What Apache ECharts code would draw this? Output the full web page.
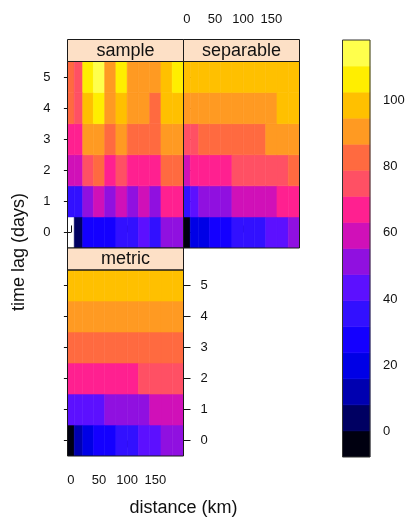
<!DOCTYPE html>
<html>
<head>
<meta charset="utf-8">
<script src="https://cdn.jsdelivr.net/npm/echarts@6/dist/echarts.min.js"></script>
<style>
  html, body { margin: 0; padding: 0; background: #ffffff; }
  #chart { width: 408px; height: 518px; }
</style>
</head>
<body>
<div id="chart"></div>
<script>
// Spatio-temporal variogram: sample values and two fitted models
// distance bin centres (km) and time lags (days)
const distances = [0, 12, 30, 50, 70, 90, 110, 130, 150, 170, 190];
const timeLags = [0, 1, 2, 3, 4, 5];

// one row per time lag (0..5), one column per distance bin
const sampleGamma = [
  [null, 4.3, 27.1, 28.4, 26.9, 34.8, 36.2, 43.9, 35.1, 50.6, 52.0],
  [36.5, 37.8, 50.2, 58.9, 51.7, 60.3, 50.8, 59.7, 49.6, 66.8, 68.4],
  [58.1, 60.4, 74.6, 82.1, 67.9, 75.8, 66.2, 68.0, 67.4, 81.5, 83.3],
  [66.5, 68.9, 90.2, 91.8, 83.4, 89.6, 82.0, 83.7, 84.5, 90.9, 92.3],
  [82.6, 75.3, 98.1, 106.0, 90.4, 99.2, 91.5, 90.1, 84.7, 97.8, 99.6],
  [83.9, 76.2, 105.3, 110.5, 91.2, 106.8, 89.8, 91.9, 90.6, 99.4, 104.7]
];
const separableGamma = [
  [0.0, 19.4, 21.2, 26.0, 28.9, 32.4, 35.0, 37.3, 41.2, 44.6, 48.3],
  [33.0, 42.5, 48.1, 51.6, 54.8, 56.9, 59.0, 60.8, 62.5, 64.1, 65.6],
  [57.5, 64.3, 66.0, 68.4, 70.5, 72.3, 74.0, 75.6, 77.0, 78.4, 79.6],
  [72.6, 76.8, 79.5, 81.2, 82.7, 84.0, 85.2, 86.3, 87.3, 88.2, 89.0],
  [87.2, 89.0, 90.3, 91.2, 92.0, 92.7, 93.3, 93.9, 94.4, 94.9, 95.3],
  [95.0, 96.2, 97.0, 97.6, 98.1, 98.5, 98.9, 99.2, 99.5, 99.8, 100.1]
];
const metricGamma = [
  [0.0, 12.5, 20.3, 25.8, 29.4, 33.1, 36.5, 40.2, 44.0, 48.0, 51.8],
  [41.0, 42.3, 44.1, 46.5, 48.6, 50.9, 53.0, 54.9, 56.7, 58.4, 60.0],
  [64.0, 64.4, 65.1, 66.2, 67.3, 68.4, 69.5, 71.6, 72.6, 73.6, 74.5],
  [80.2, 80.4, 80.8, 81.5, 82.2, 82.9, 83.6, 84.3, 84.9, 85.5, 86.1],
  [90.0, 90.1, 90.4, 90.8, 91.2, 91.6, 92.0, 92.4, 92.8, 93.1, 93.4],
  [97.8, 97.9, 98.1, 98.4, 98.7, 99.0, 99.3, 99.6, 99.9, 100.2, 100.4]
];

const panelNames = ['sample', 'separable', 'metric'];
const distTicks = [0, 50, 100, 150, 200];
const distLabels = [0, 50, 100, 150];
const lagTicks = [0, 1, 2, 3, 4, 5];
const keyTicks = [0, 20, 40, 60, 80, 100];

// black - blue - purple - yellow ramp, 16 levels
const palette = [
  '#000010', '#000062', '#0000b0', '#0000e6', '#1400ff', '#3210ff', '#5c10ff', '#9010e0',
  '#d010b8', '#ff2090', '#ff5064', '#ff6a40', '#ff9a22', '#ffc000', '#ffee00', '#ffff4c'
];

// colour breaks: data range widened by 7% on both sides, split evenly
const allValues = [].concat(...sampleGamma, ...separableGamma, ...metricGamma).filter(v => v != null);
const zMin = Math.min(...allValues), zMax = Math.max(...allValues);
const zPad = 0.07 * (zMax - zMin);
const zLo = zMin - zPad, zHi = zMax + zPad;
const breaks = palette.map((_, i) => zLo + (zHi - zLo) * i / palette.length).concat([zHi]);

// cell edges halfway between neighbouring centres
function cellEdges(c) {
  const n = c.length;
  const e = [c[0] - (c[1] - c[0]) / 2];
  for (let i = 0; i < n - 1; i++) e.push((c[i] + c[i + 1]) / 2);
  e.push(c[n - 1] + (c[n - 1] - c[n - 2]) / 2);
  return e;
}
const xEdges = cellEdges(distances);
const yEdges = cellEdges(timeLags);

function cells(grid) {
  const out = [];
  grid.forEach((row, i) => row.forEach((v, j) => {
    if (v != null) out.push([xEdges[j], xEdges[j + 1], yEdges[i], yEdges[i + 1], v]);
  }));
  return out;
}
const keyCells = palette.map((_, k) => [0, 1, breaks[k], breaks[k + 1], (breaks[k] + breaks[k + 1]) / 2]);

function renderCell(params, api) {
  const a = api.coord([api.value(0), api.value(3)]);
  const b = api.coord([api.value(1), api.value(2)]);
  const c = api.visual('color');
  return {
    type: 'rect',
    shape: { x: a[0], y: a[1], width: b[0] - a[0], height: b[1] - a[1] },
    style: { fill: c, stroke: c, lineWidth: 0.6 }
  };
}

// layout (px)
const FONT = '"Liberation Sans", Arial, Helvetica, sans-serif';
const colLeft = [67.5, 183.5];
const panelW = 116;
const stripH = 22;
const topStripY = 39.5;
const plotH = 186.5;
const row0Top = topStripY + stripH;            // sample / separable plot top
const row1StripY = row0Top + plotH;            // metric strip top
const row1Top = row1StripY + stripH;           // metric plot top
const row1H = 186;
const key = { left: 342.5, top: 40, width: 27.5, height: 417 };

const panelBoxes = [
  { left: colLeft[0], top: row0Top, width: panelW, height: plotH, stripY: topStripY },
  { left: colLeft[1], top: row0Top, width: panelW, height: plotH, stripY: topStripY },
  { left: colLeft[0], top: row1Top, width: panelW, height: row1H, stripY: row1StripY }
];

const tickStyle = { show: true, inside: false, length: 7, lineStyle: { color: '#111', width: 1 } };
const labelStyle = { color: '#111', fontSize: 13, fontFamily: FONT };

function xAxisDef(gridIndex, position, withLabels, offset, margin) {
  return {
    type: 'value', gridIndex, position, offset: offset || 0,
    min: xEdges[0], max: xEdges[xEdges.length - 1],
    axisLine: { show: false }, splitLine: { show: false },
    axisTick: Object.assign({ customValues: distTicks }, tickStyle),
    axisLabel: Object.assign({ show: withLabels, customValues: distLabels, margin: margin || 10 }, labelStyle)
  };
}
function yAxisDef(gridIndex, position, withLabels) {
  return {
    type: 'value', gridIndex, position,
    min: yEdges[0], max: yEdges[yEdges.length - 1],
    axisLine: { show: false }, splitLine: { show: false },
    axisTick: Object.assign({ customValues: lagTicks }, tickStyle),
    axisLabel: Object.assign({ show: withLabels, customValues: lagTicks, margin: 17 }, labelStyle)
  };
}

const graphics = [];
panelBoxes.forEach((p, i) => {
  graphics.push({
    type: 'rect', z: 100,
    shape: { x: p.left, y: p.stripY, width: panelW, height: stripH },
    style: { fill: '#fde0c6', stroke: '#1a1a1a', lineWidth: 1 }
  });
  graphics.push({
    type: 'text', z: 101, x: p.left + panelW / 2, y: p.stripY + stripH / 2 + 0.5,
    style: { text: panelNames[i], fill: '#111', font: '18px ' + FONT, align: 'center', verticalAlign: 'middle' }
  });
  graphics.push({
    type: 'rect', z: 100,
    shape: { x: p.left, y: p.top, width: p.width, height: p.height },
    style: { fill: 'none', stroke: '#1a1a1a', lineWidth: 1 }
  });
});
graphics.push({
  type: 'rect', z: 100,
  shape: { x: key.left, y: key.top, width: key.width, height: key.height },
  style: { fill: 'none', stroke: '#333', lineWidth: 1 }
});
graphics.push({
  type: 'text', z: 101, x: colLeft[0] + panelW, y: 508,
  style: { text: 'distance (km)', fill: '#111', font: '18px ' + FONT, align: 'center', verticalAlign: 'middle' }
});
graphics.push({
  type: 'text', z: 101, x: 19, y: 252, rotation: Math.PI / 2,
  style: { text: 'time lag (days)', fill: '#111', font: '18px ' + FONT, align: 'center', verticalAlign: 'middle' }
});

const chart = echarts.init(document.getElementById('chart'), null, { renderer: 'canvas' });
chart.setOption({
  animation: false,
  backgroundColor: '#ffffff',
  grid: panelBoxes.map(p => ({ left: p.left, top: p.top, width: p.width, height: p.height }))
    .concat([{ left: key.left, top: key.top, width: key.width, height: key.height }]),
  xAxis: [
    xAxisDef(0, 'top', false, stripH, 14),
    xAxisDef(1, 'top', true, stripH, 14),
    xAxisDef(2, 'bottom', true, 0, 18),
    { type: 'value', gridIndex: 3, min: 0, max: 1, show: false }
  ],
  yAxis: [
    yAxisDef(0, 'left', true),
    yAxisDef(1, 'right', false),
    yAxisDef(2, 'left', false),
    yAxisDef(2, 'right', true),
    {
      type: 'value', gridIndex: 3, position: 'right', min: zLo, max: zHi,
      axisLine: { show: false }, splitLine: { show: false },
      axisTick: Object.assign({ customValues: keyTicks }, tickStyle, { length: 6 }),
      axisLabel: Object.assign({ customValues: keyTicks, margin: 13 }, labelStyle)
    }
  ],
  visualMap: {
    type: 'piecewise', show: false, dimension: 4, seriesIndex: [0, 1, 2, 3],
    pieces: palette.map((c, k) => (k === palette.length - 1
      ? { gte: breaks[k], lte: breaks[k + 1], color: c }
      : { gte: breaks[k], lt: breaks[k + 1], color: c }))
  },
  graphic: graphics,
  series: [
    { type: 'custom', name: 'sample', xAxisIndex: 0, yAxisIndex: 0, renderItem: renderCell, data: cells(sampleGamma), encode: { x: [0, 1], y: [2, 3] }, clip: true },
    { type: 'custom', name: 'separable', xAxisIndex: 1, yAxisIndex: 1, renderItem: renderCell, data: cells(separableGamma), encode: { x: [0, 1], y: [2, 3] }, clip: true },
    { type: 'custom', name: 'metric', xAxisIndex: 2, yAxisIndex: 2, renderItem: renderCell, data: cells(metricGamma), encode: { x: [0, 1], y: [2, 3] }, clip: true },
    { type: 'custom', name: 'key', xAxisIndex: 3, yAxisIndex: 4, renderItem: renderCell, data: keyCells, encode: { x: [0, 1], y: [2, 3] }, clip: true }
  ]
});
</script>
</body>
</html>
